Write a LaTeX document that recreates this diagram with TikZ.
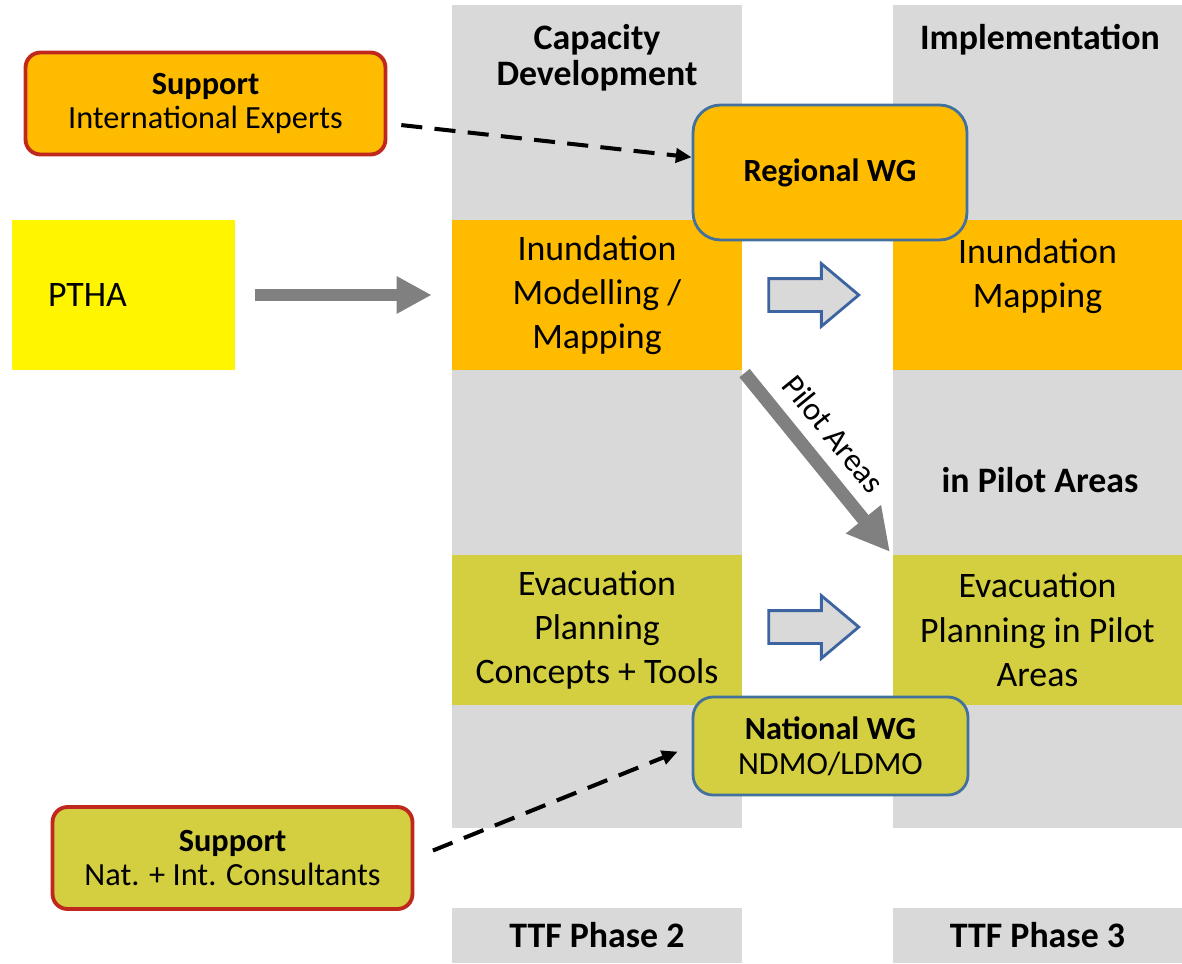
\documentclass[tikz,border=0pt]{standalone}
\usepackage{fontspec}
\setmainfont{Carlito}
\usetikzlibrary{arrows.meta, shapes.arrows}

\definecolor{colgray}{HTML}{D9D9D9}
\definecolor{cellorange}{HTML}{FFBB00}
\definecolor{cellgreen}{HTML}{D4CF40}
\definecolor{pthayellow}{HTML}{FFF500}
\definecolor{borderred}{HTML}{C0281E}
\definecolor{borderblue}{HTML}{41719C}
\definecolor{arrowgray}{HTML}{808080}
\definecolor{arrowblue}{HTML}{3B64A0}

\newcommand\bigtxt{\fontsize{20.4}{25.2}\selectfont}
\newcommand\midtxt{\fontsize{18.4}{19.8}\selectfont}

\tikzset{
  cell/.style={minimum width=5.8cm, minimum height=3cm, inner sep=0pt, align=center, font=\bigtxt},
  head/.style={align=center, font=\fontsize{20.4}{20.4}\selectfont\bfseries},
  phase/.style={fill=colgray, minimum width=5.8cm, minimum height=1.1cm, font=\bigtxt\bfseries},
  support/.style={draw=borderred, line width=2.2pt, rounded corners=0.3cm, minimum width=7.2cm, minimum height=2.04cm, align=center, font=\midtxt},
  wg/.style={draw=borderblue, line width=1.6pt, align=center, font=\midtxt},
  fatarrow/.style={draw=arrowgray, line width=7pt, -{Triangle[length=20pt, width=20pt]}},
  hollow/.style={single arrow, draw=arrowblue, fill=colgray, line width=1.6pt, minimum height=1.8cm, minimum width=1.2cm, single arrow head extend=0.3cm, single arrow tip angle=80, inner xsep=0pt, inner ysep=0.3cm},
  dasharrow/.style={dash pattern=on 12pt off 7pt, line width=2.3pt, -{Triangle[length=9pt, width=8pt]}},
}

\begin{document}
\begin{tikzpicture}[x=0.02cm, y=-0.02cm]
    \useasboundingbox (0, 0) rectangle (1182, 963);

    % Phase columns
    \foreach \x in {452, 893}
      \fill[colgray] (\x, 5) rectangle ++(290, 823);

    \node[head] (capdev) at (597, 58) {Capacity\\Development};
    \node[head] (impl) at (1040, 40) {Implementation};

    % Cells
    \node[cell, fill=cellorange] (inmod) at (597, 295) {Inundation\\Modelling /\\Mapping};
    \node[cell, fill=cellorange] (inmap) at (1037.5, 295) {Inundation\\Mapping\\~};
    \node[cell, fill=cellgreen] (evcon) at (597, 630) {Evacuation\\Planning\\Concepts + Tools};
    \node[cell, fill=cellgreen] (evpil) at (1037.5, 630) {Evacuation\\Planning in Pilot\\Areas};
    \node[font=\bigtxt\bfseries] (inpil) at (1040, 480) {in Pilot Areas};

    \node[fill=pthayellow, minimum height=3cm, text width=3.02cm, inner xsep=0.72cm, align=left, font=\bigtxt] (ptha) at (123.5, 295) {PTHA};

    \node[hollow] (flowa) at (804, 295) {};
    \node[hollow] (flowb) at (804, 627) {};

    % Working groups
    \node[wg, fill=cellorange, rounded corners=0.55cm, minimum width=5.48cm, minimum height=2.7cm] (regwg) at (830, 172.5) {\textbf{Regional WG}};
    \node[wg, fill=cellgreen, rounded corners=0.4cm, minimum width=5.5cm, minimum height=1.96cm] (natwg) at (830.5, 746) {\textbf{National WG}\\NDMO/LDMO};

    % Support
    \node[support, fill=cellorange] (supint) at (205.5, 103.5) {\textbf{Support}\\International Experts};
    \node[support, fill=cellgreen] (supnat) at (232.5, 858) {\textbf{Support}\\Nat. + Int. Consultants};

    \node[phase] (phtwo) at (597, 935.5) {TTF Phase 2};
    \node[phase] (phthree) at (1037.5, 935.5) {TTF Phase 3};

    % Arrows
    \draw[fatarrow, shorten <=0.4cm, shorten >=0.4cm] (ptha) -- (inmod);
    \draw[fatarrow, line width=7.5pt, -{Triangle[length=24pt, width=24pt]}, shorten <=2pt, shorten >=2pt] (inmod.south east) -- node[sloped, above=4pt, pos=0.45, font=\fontsize{18.5}{20}\selectfont] {Pilot Areas} (evpil.north west);

    \draw[dasharrow, shorten <=0.28cm] (supint) -- (regwg);
    \draw[dasharrow, shorten <=0.4cm, shorten >=0.3cm] (supnat.east) -- (natwg.west);
\end{tikzpicture}
\end{document}
